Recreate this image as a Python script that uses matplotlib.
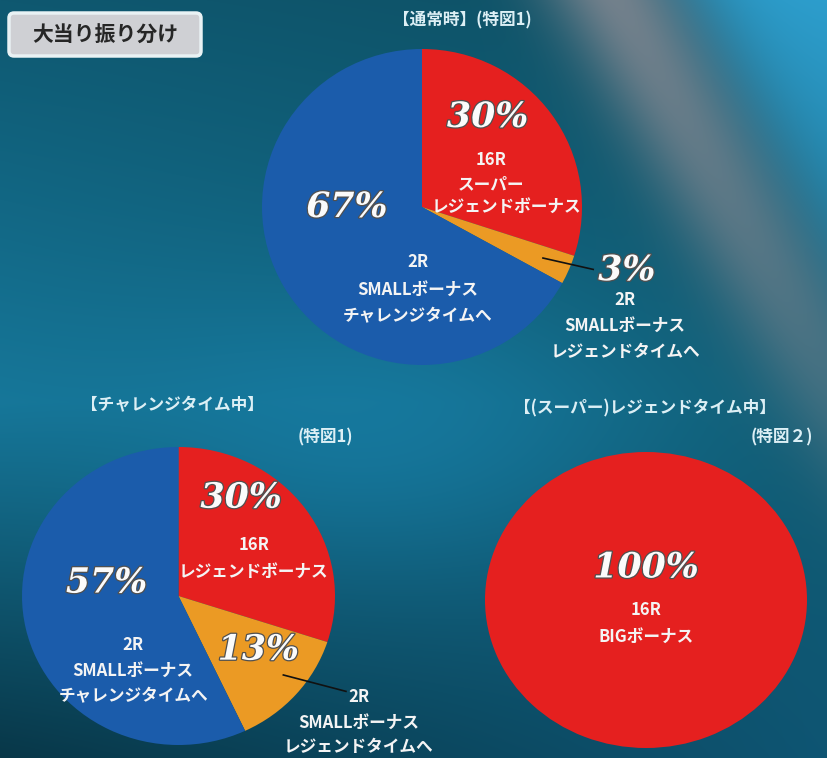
import numpy as np
import matplotlib
matplotlib.use("Agg")
import matplotlib.pyplot as plt
from matplotlib.patches import FancyBboxPatch
import matplotlib.patheffects as pe

W, H = 827, 758
JP = ["Noto Sans CJK JP", "DejaVu Sans"]
NUM = ["DejaVu Serif"]

# ---------------- data ----------------
title = "大当り振り分け"

p1_title = "【通常時】(特図1)"
p1_values = [30, 3, 67]
p1_names = [["16R", "スーパー", "レジェンドボーナス"],
            ["2R", "SMALLボーナス", "レジェンドタイムへ"],
            ["2R", "SMALLボーナス", "チャレンジタイムへ"]]

p2_title = "【チャレンジタイム中】"
p2_sub = "(特図1)"
p2_values = [30, 13, 57]
p2_names = [["16R", "レジェンドボーナス"],
            ["2R", "SMALLボーナス", "レジェンドタイムへ"],
            ["2R", "SMALLボーナス", "チャレンジタイムへ"]]

p3_title = "【(スーパー)レジェンドタイム中】"
p3_sub = "(特図２)"
p3_values = [100]
p3_names = [["16R", "BIGボーナス"]]

RED, ORANGE, BLUE = "#e5201f", "#eb9a24", "#1b5cab"
p1_colors = [RED, ORANGE, BLUE]
p2_colors = [RED, ORANGE, BLUE]
p3_colors = [RED]

# ---------------- figure / background ----------------
fig = plt.figure(figsize=(W / 100, H / 100), dpi=100)
bg = fig.add_axes([0, 0, 1, 1])
bg.set_axis_off()

yy, xx = np.mgrid[0:H, 0:W].astype(float)
def lerp(a, b, t):
    return a[None, None, :] * (1 - t[..., None]) + b[None, None, :] * t[..., None]
tl = np.array([14, 88, 112.]); ml = np.array([22, 118, 152.]); bl = np.array([8, 55, 72.])
ty = yy / H
left = np.where((ty < 0.53)[..., None],
                lerp(tl, ml, np.clip(ty / 0.53, 0, 1)),
                lerp(ml, bl, np.clip((ty - 0.53) / 0.47, 0, 1)))
tr = np.array([14, 80, 100.]); mr = np.array([16, 92, 115.]); br = np.array([14, 85, 115.])
right = np.where((ty < 0.53)[..., None],
                 lerp(tr, mr, np.clip(ty / 0.53, 0, 1)),
                 lerp(mr, br, np.clip((ty - 0.53) / 0.47, 0, 1)))
tx = np.clip(xx / W, 0, 1)
img = left * (1 - tx[..., None]) + right * tx[..., None]
# bright blue glow in the middle
g = np.exp(-(((xx - 380) / 260) ** 2 + ((yy - 430) / 140) ** 2))
img = img * (1 - 0.5 * g[..., None]) + np.array([25, 135, 180.]) * 0.5 * g[..., None]
# diagonal grey band + light blue beyond
nx, ny = 250.0, -140.0
nrm = np.hypot(nx, ny)
dist = ((xx - 610) * nx + (yy - 0) * ny) / nrm
band = np.exp(-((dist - 5) / 60) ** 2)
beyond = 1 / (1 + np.exp(-(dist - 70) / 25))
fade = np.clip(1 - yy / 620, 0, 1) ** 0.7
img = img * (1 - beyond[..., None] * fade[..., None]) + np.array([45, 158, 205.]) * (beyond * fade)[..., None]
img = img * (1 - 0.9 * (band * fade)[..., None]) + np.array([125, 133, 143.]) * (0.9 * band * fade)[..., None]
bg.imshow(np.clip(img, 0, 255).astype(np.uint8), extent=[0, W, H, 0], aspect="auto")
bg.set_xlim(0, W); bg.set_ylim(H, 0)

# ---------------- title box ----------------
box = FancyBboxPatch((9, 13), 192, 43, boxstyle="round,pad=0,rounding_size=5",
                     transform=bg.transData, facecolor="#cfd0d4", edgecolor="#e9f2f4",
                     linewidth=2.5, zorder=3)
bg.add_patch(box)
bg.text(105, 35, title, ha="center", va="center", fontsize=15, fontweight="bold",
        color="#262626", family=JP, zorder=4)

hdr_kw = dict(color="#dcefF5", family=JP, fontsize=12, fontweight="bold", va="center", ha="center", zorder=4)
bg.text(462, 20, p1_title, **hdr_kw)
bg.text(172, 405, p2_title, **hdr_kw)
bg.text(325, 437, p2_sub, **hdr_kw)
bg.text(645, 408, p3_title, **hdr_kw)
bg.text(782, 437, p3_sub, **hdr_kw)

def pct(ax, x, y, v):
    ax.text(x, y, f"{v}%", ha="center", va="center", fontsize=25, fontweight="bold",
            fontstyle="italic", family=NUM, color="#fbfbfb", zorder=5,
            path_effects=[pe.withStroke(linewidth=1.8, foreground="#505050")])

def lines(ax, x, y0, texts, dy, fs=12):
    for i, t in enumerate(texts):
        ax.text(x, y0 - i * dy, t, ha="center", va="center", fontsize=fs, fontweight="bold",
                family=JP, color="#f4f4f4", zorder=5)

def make_pie(px0, py0, px1, py1, values, colors):
    ax = fig.add_axes([px0 / W, 1 - py1 / H, (px1 - px0) / W, (py1 - py0) / H])
    ax.pie(values, colors=colors, startangle=90, counterclock=False, radius=1,
           wedgeprops=dict(linewidth=0))
    ax.set_aspect("auto")
    ax.set_xlim(-1, 1); ax.set_ylim(-1, 1)
    ax.set_axis_off()
    return ax

# pie 1
ax1 = make_pie(262, 49, 582, 365, p1_values, p1_colors)
pct(ax1, 0.41, 0.57, p1_values[0])
lines(ax1, 0.43, 0.30, p1_names[0][:2], 0.154)
ax1.text(0.53, 0.0, p1_names[0][2], ha="center", va="center", fontsize=12,
         fontweight="bold", family=JP, color="#f4f4f4", zorder=5)
pct(ax1, -0.47, 0.0, p1_values[2])
lines(ax1, -0.025, -0.35, p1_names[2], 0.172)
pct(ax1, 1.28, -0.40, p1_values[1])
lines(ax1, 1.27, -0.59, p1_names[1], 0.165)
ax1.plot([0.756, 1.07], [-0.323, -0.395], color="#111111", lw=1.2, clip_on=False, zorder=6)

# pie 2
ax2 = make_pie(22, 447, 335, 745, p2_values, p2_colors)
pct(ax2, 0.40, 0.66, p2_values[0])
lines(ax2, 0.48, 0.34, p2_names[0], 0.18)
pct(ax2, -0.46, 0.09, p2_values[2])
lines(ax2, -0.29, -0.33, p2_names[2], 0.172)
pct(ax2, 0.51, -0.36, p2_values[1])
lines(ax2, 1.15, -0.68, p2_names[1], 0.168)
ax2.plot([0.67, 1.07], [-0.53, -0.64], color="#111111", lw=1.2, clip_on=False, zorder=6)

# pie 3
ax3 = make_pie(485, 452, 807, 748, p3_values, p3_colors)
pct(ax3, 0.0, 0.22, p3_values[0])
lines(ax3, 0.0, -0.07, p3_names[0], 0.18)

fig.savefig("out.png", dpi=100)
